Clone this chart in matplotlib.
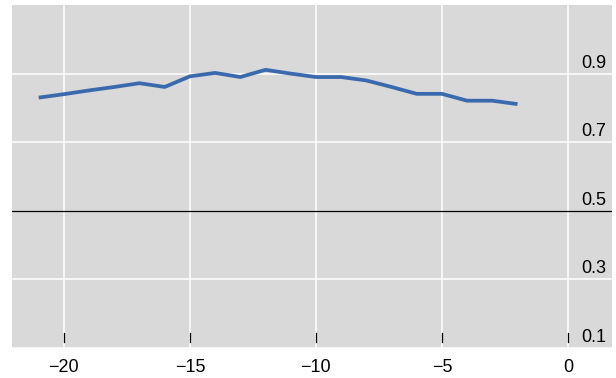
import matplotlib.pyplot as plt
import matplotlib.transforms as mtransforms

# Data
x_vals = [-21, -20, -19, -18, -17, -16, -15, -14, -13, -12, -11, -10, -9, -8, -7, -6, -5, -4, -3, -2]
y_vals = [0.830, 0.840, 0.851, 0.861, 0.872, 0.861, 0.892, 0.902, 0.890, 0.911, 0.900, 0.890,
          0.890, 0.880, 0.861, 0.841, 0.841, 0.821, 0.821, 0.811]
x_ticks = [-20, -15, -10, -5, 0]
x_tick_labels = ['\u221220', '\u221215', '\u221210', '\u22125', '0']
y_ticks = [0.1, 0.3, 0.5, 0.7, 0.9]
y_tick_labels = ['0.1', '0.3', '0.5', '0.7', '0.9']

plt.rcParams['font.family'] = ['Liberation Sans', 'DejaVu Sans']

fig = plt.figure(figsize=(6.16, 3.78), dpi=100)
ax = fig.add_axes([12 / 616, 30 / 378, 600 / 616, 343 / 378])
ax.set_facecolor('#d9d9d9')

ax.set_xlim(-22.06, 1.75)
ax.set_ylim(0.1, 1.1)

# White grid lines
for xt in x_ticks:
    ax.axvline(xt, color='white', linewidth=1.1, zorder=1)
for yt in y_ticks:
    if yt != 0.5:
        ax.axhline(yt, color='white', linewidth=1.1, zorder=1)
ax.axhline(0.5, color='black', linewidth=0.9, zorder=2)

ax.plot(x_vals, y_vals, color='#3a6aad', linewidth=2.7, solid_joinstyle='round',
        solid_capstyle='butt', zorder=3)

# Short tick marks inside the bottom of the plot
blend = mtransforms.blended_transform_factory(ax.transData, ax.transAxes)
for xt in x_ticks:
    ax.plot([xt, xt], [0.018, 0.045], color='black', linewidth=0.9, transform=blend, zorder=4)

ax.set_xticks(x_ticks)
ax.set_xticklabels(x_tick_labels, fontsize=13)
ax.tick_params(axis='x', length=0, pad=8)
ax.set_yticks([])

# Y labels sit just above their gridlines at the right side
blend_y = mtransforms.blended_transform_factory(ax.transAxes, ax.transData)
for yt, lab in zip(y_ticks, y_tick_labels):
    ax.text(0.99, yt + 0.006, lab, transform=blend_y, ha='right', va='bottom', fontsize=13)

for s in ax.spines.values():
    s.set_visible(False)

plt.savefig('out.png', dpi=100)
